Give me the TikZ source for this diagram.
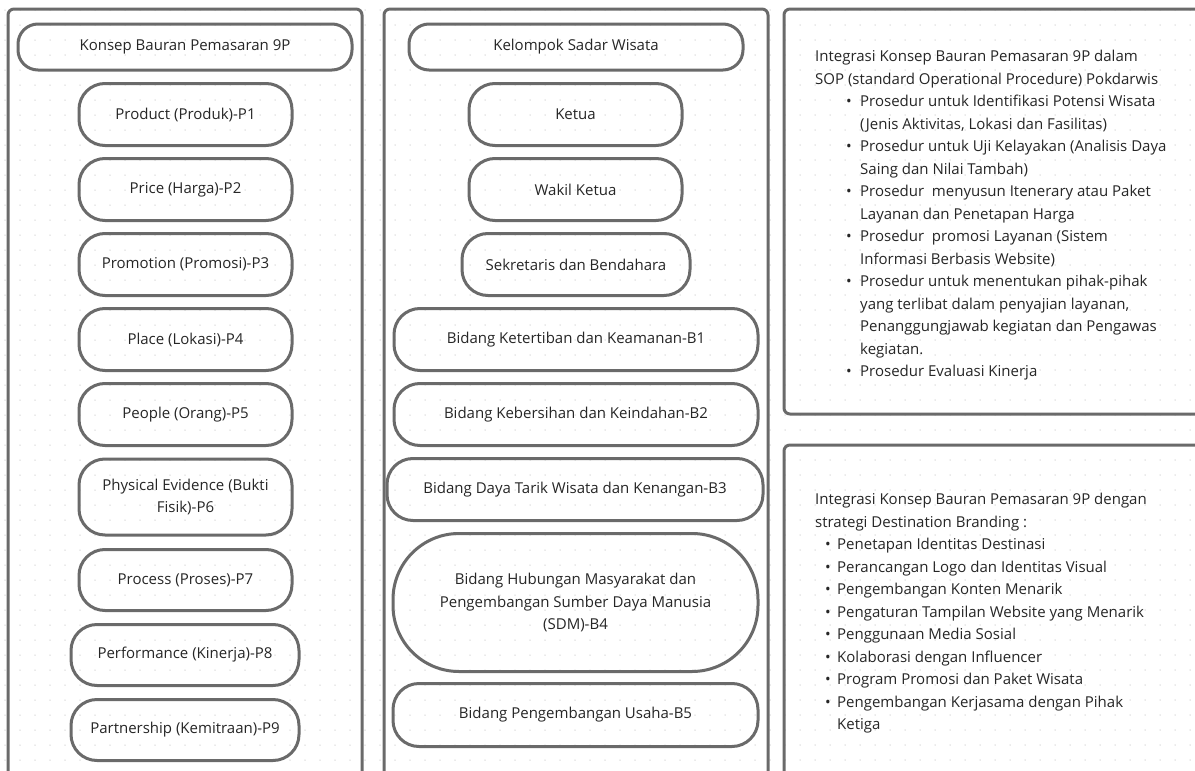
\documentclass[tikz,border=0pt]{standalone}
\usepackage{fontspec}
\setmainfont{Open Sans}
\definecolor{edge}{HTML}{6A6A6A}
\definecolor{txt}{HTML}{262626}
\definecolor{dotc}{HTML}{D6D6D6}
\newcommand\bulA{\makebox[45pt][l]{\hspace*{31pt}•}}
\newcommand\indA{\makebox[45pt]{}}
\newcommand\bulB{\makebox[22pt][l]{\hspace*{10pt}•}}
\newcommand\indB{\makebox[22pt]{}}
\begin{document}
\begin{tikzpicture}[x=1pt,y=-1pt,
  panel/.style={draw=edge,line width=3pt,rounded corners=6pt},
  pill/.style={draw=edge,line width=3pt,text=txt,align=center,inner sep=0pt,
    font=\fontsize{15}{22.5}\selectfont},
  listtext/.style={text=txt,align=left,inner sep=0pt,anchor=north west,
    font=\fontsize{15}{22.5}\selectfont}]
\useasboundingbox (0,0) rectangle (1195,771);
\clip (0,0) rectangle (1195,771);
\fill[white] (0,0) rectangle (1195,771);
\foreach \i in {0,...,79}{
  \foreach \j in {0,...,51}{
    \fill[dotc] (5+15*\i,10+15*\j) circle (0.75);
  }
}
% panels
\draw[panel] (8,9) rectangle (362,800);
\draw[panel] (384,9) rectangle (768,800);
\draw[panel] (784,9) rectangle (1220,414);
\draw[panel] (784,445) rectangle (1220,800);

% left column
\node[pill,minimum width=334pt,minimum height=46pt,rounded corners=20pt] (k9p) at (185,47) {Konsep Bauran Pemasaran 9P};
\node[pill,minimum width=213pt,minimum height=62pt,rounded corners=26pt] (p1) at (185.5,114.5) {Product (Produk)-P1};
\node[pill,minimum width=213pt,minimum height=62pt,rounded corners=26pt] (p2) at (185.5,189.5) {Price (Harga)-P2};
\node[pill,minimum width=213pt,minimum height=62pt,rounded corners=26pt] (p3) at (185.5,264.5) {Promotion (Promosi)-P3};
\node[pill,minimum width=213pt,minimum height=62pt,rounded corners=26pt] (p4) at (185.5,339.5) {Place (Lokasi)-P4};
\node[pill,minimum width=213pt,minimum height=62pt,rounded corners=26pt] (p5) at (185.5,414.5) {People (Orang)-P5};
\node[pill,minimum width=213pt,minimum height=76pt,rounded corners=26pt] (p6) at (185.5,497) {Physical Evidence (Bukti\\Fisik)-P6};
\node[pill,minimum width=213pt,minimum height=61pt,rounded corners=26pt] (p7) at (185.5,580) {Process (Proses)-P7};
\node[pill,minimum width=228pt,minimum height=61pt,rounded corners=26pt] (p8) at (185,655) {Performance (Kinerja)-P8};
\node[pill,minimum width=228pt,minimum height=61pt,rounded corners=26pt] (p9) at (185,730) {Partnership (Kemitraan)-P9};

% middle column
\node[pill,minimum width=334pt,minimum height=46pt,rounded corners=20pt] (ksw) at (576,47) {Kelompok Sadar Wisata};
\node[pill,minimum width=213pt,minimum height=62pt,rounded corners=26pt] (ketua) at (575.5,114.5) {Ketua};
\node[pill,minimum width=213pt,minimum height=62pt,rounded corners=26pt] (wakil) at (575.5,189.5) {Wakil Ketua};
\node[pill,minimum width=228pt,minimum height=62pt,rounded corners=26pt] (sekben) at (576,264.5) {Sekretaris dan Bendahara};
\node[pill,minimum width=364pt,minimum height=62pt,rounded corners=26pt] (b1) at (576,339.5) {Bidang Ketertiban dan Keamanan-B1};
\node[pill,minimum width=364pt,minimum height=62pt,rounded corners=26pt] (b2) at (576,414.5) {Bidang Kebersihan dan Keindahan-B2};
\node[pill,minimum width=376pt,minimum height=62pt,rounded corners=26pt] (b3) at (575,489.5) {Bidang Daya Tarik Wisata dan Kenangan-B3};
\node[pill,minimum width=365pt,minimum height=138pt,rounded corners=66pt] (b4) at (575.5,602.5) {Bidang Hubungan Masyarakat dan\\Pengembangan Sumber Daya Manusia\\(SDM)-B4};
\node[pill,minimum width=365pt,minimum height=63pt,rounded corners=26pt] (b5) at (575.5,715) {Bidang Pengembangan Usaha-B5};

% right texts
\node[listtext] (sop) at (815,50) {Integrasi Konsep Bauran Pemasaran 9P dalam\\
SOP (standard Operational Procedure) Pokdarwis\\
\bulA Prosedur untuk Identifikasi Potensi Wisata\\
\indA (Jenis Aktivitas, Lokasi dan Fasilitas)\\
\bulA Prosedur untuk Uji Kelayakan (Analisis Daya\\
\indA Saing dan Nilai Tambah)\\
\bulA Prosedur\ \ menyusun Itenerary atau Paket\\
\indA Layanan dan Penetapan Harga\\
\bulA Prosedur\ \ promosi Layanan (Sistem\\
\indA Informasi Berbasis Website)\\
\bulA Prosedur untuk menentukan pihak-pihak\\
\indA yang terlibat dalam penyajian layanan,\\
\indA Penanggungjawab kegiatan dan Pengawas\\
\indA kegiatan.\\
\bulA Prosedur Evaluasi Kinerja};

\node[listtext] (brand) at (815,493) {Integrasi Konsep Bauran Pemasaran 9P dengan\\
strategi Destination Branding :\\
\bulB Penetapan Identitas Destinasi\\
\bulB Perancangan Logo dan Identitas Visual\\
\bulB Pengembangan Konten Menarik\\
\bulB Pengaturan Tampilan Website yang Menarik\\
\bulB Penggunaan Media Sosial\\
\bulB Kolaborasi dengan Influencer\\
\bulB Program Promosi dan Paket Wisata\\
\bulB Pengembangan Kerjasama dengan Pihak\\
\indB Ketiga};
\end{tikzpicture}
\end{document}
